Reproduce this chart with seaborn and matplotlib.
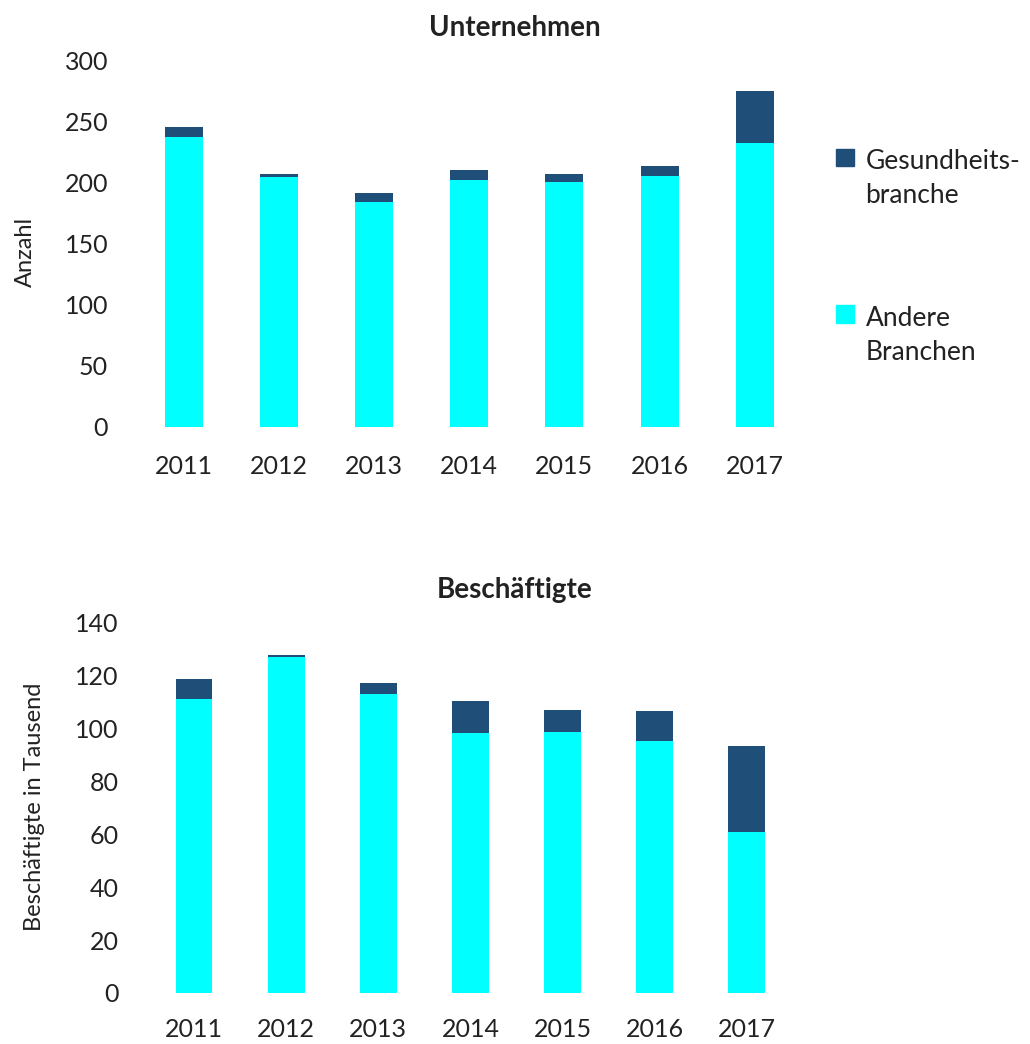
import matplotlib
matplotlib.use("Agg")
import matplotlib.pyplot as plt
import seaborn as sns
import pandas as pd
from matplotlib.patches import Patch, Rectangle
from matplotlib.legend_handler import HandlerPatch

# data
years = ["2011", "2012", "2013", "2014", "2015", "2016", "2017"]
firms_other = [237, 204, 184, 202, 200, 205, 232]
firms_health = [8, 3, 7, 8, 7, 8, 43]
staff_other = [111.0, 126.8, 113.0, 98.3, 98.6, 95.2, 60.8]
staff_health = [7.5, 0.9, 4.0, 11.8, 8.1, 11.4, 32.4]

DARK = "#1F4E79"
CYAN = "#00FFFF"
TXT = "#222222"
FONT = ["Lato", "DejaVu Sans"]

sns.set_theme(style="white")
plt.rcParams["font.family"] = FONT

fig = plt.figure(figsize=(10.3, 10.44), dpi=100)


def stacked(ax, other, health, ymax, step, ylabel, ypad, xpad, label_xy):
    df = pd.DataFrame({"year": years, "other": other, "health": health})
    df["total"] = df["other"] + df["health"]
    sns.barplot(data=df, x="year", y="total", color=DARK, width=0.4,
                errorbar=None, saturation=1, linewidth=0, ax=ax)
    sns.barplot(data=df, x="year", y="other", color=CYAN, width=0.4,
                errorbar=None, saturation=1, linewidth=0, ax=ax)
    ax.set_xlim(-0.5, 6.5)
    ax.set_ylim(0, ymax)
    ax.set_yticks(range(0, ymax + 1, step))
    ax.set_xlabel("")
    ax.set_ylabel(ylabel, fontsize=17, color=TXT)
    ax.yaxis.set_label_coords(*label_xy)
    ax.tick_params(axis="both", labelsize=18, length=0, colors=TXT)
    ax.tick_params(axis="x", pad=xpad)
    ax.tick_params(axis="y", pad=ypad)
    sns.despine(ax=ax, left=True, bottom=True)


ax1 = fig.add_axes([0.132, 0.591, 0.647, 0.3515])
stacked(ax1, firms_other, firms_health, 300, 50, "Anzahl",
        20, 20, (-0.150, 0.477))
fig.text(0.5, 1 - 28 / 1044, "Unternehmen", ha="center", va="center",
         fontsize=20, fontweight="bold", color=TXT)

ax2 = fig.add_axes([0.1437, 0.0489, 0.626, 0.355])
stacked(ax2, staff_other, staff_health, 140, 20, "Beschäftigte in Tausend",
        21, 18, (-0.159, 0.503))
fig.text(0.5, 1 - 590 / 1044, "Beschäftigte", ha="center", va="center",
         fontsize=20, fontweight="bold", color=TXT)


# legend handle sits next to the first line of a two-line label
def top_square(legend, orig_handle, xdescent, ydescent, width, height, fontsize):
    side = 0.66 * fontsize
    return Rectangle((-xdescent, -ydescent + height / 2 + 0.82 * fontsize - side / 2),
                     side, side)


handles = [Patch(color=DARK), Patch(color=CYAN)]
leg = fig.legend(handles, ["Gesundheits-\nbranche", "Andere\nBranchen"],
                 loc="upper left", bbox_to_anchor=(0.799, 0.870),
                 frameon=False, fontsize=19, labelspacing=3.7,
                 handlelength=0.66, handletextpad=0.45, borderpad=0,
                 handler_map={Patch: HandlerPatch(patch_func=top_square)})
for t in leg.get_texts():
    t.set_linespacing(1.45)
    t.set_color(TXT)

fig.savefig("out.png", dpi=100)
